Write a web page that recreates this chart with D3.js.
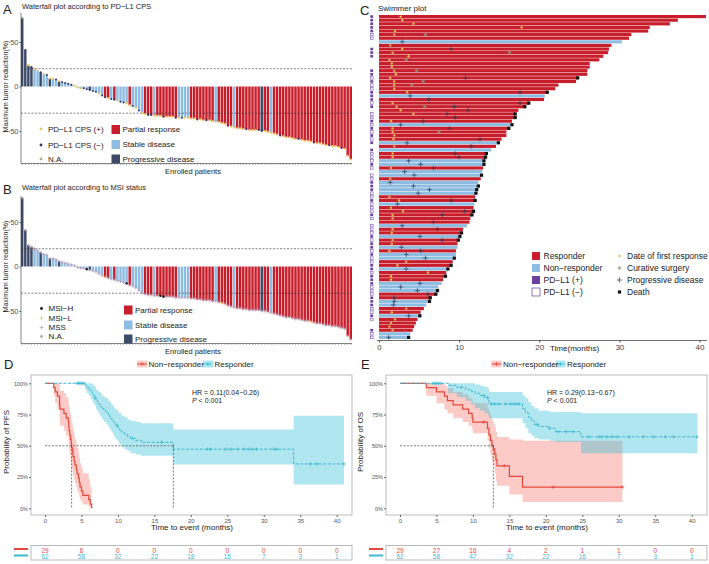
<!DOCTYPE html>
<html>
<head>
<meta charset="utf-8">
<script src="https://cdn.jsdelivr.net/npm/d3@7"></script>
<style>
  body { margin: 0; background: #fff; }
  svg text { font-family: "Liberation Sans", Arial, sans-serif; }
</style>
</head>
<body>
<svg id="fig" width="709" height="564"></svg>
<script>
// ---------- waterfall data (panels A and B share the bars) ----------
const wfChange = [77, 41, 24, 22, 20, 18, 16, 14, 13, 9, 9, 8, 6, 5, 4, 3, 2, 1, -1, -2,
  -2, -3, -4, -5, -6, -8, -10, -12, -13, -14, -15, -16, -17, -18, -19, -21, -22, -24, -27, -30,
  -31, -32, -32, -33, -33, -33, -34, -34, -34, -34, -35, -35, -35, -35, -35, -36, -36, -37, -37, -38,
  -38, -38, -39, -39, -40, -41, -42, -44, -45, -46, -47, -47, -48, -48, -49, -49, -49, -49, -50, -50,
  -51, -52, -53, -54, -55, -56, -57, -57, -58, -59, -59, -60, -61, -61, -62, -63, -64, -64, -65, -66,
  -66, -67, -67, -68, -69, -70, -78, -82];
// R = partial response, S = stable disease, P = progressive disease
const wfResponse = ["PPPP", "SS", "P", "SS", "P", "SS", "P", "SSSSSSSSS", "P", "SSSS", "RR", "S", "R",
  "SSSS", "R", "SSSS", "RRR", "S", "RRRRRRR", "SSSS", "RRRRRRRR", "S", "RRRRR", "S", "RRRRRRRR", "P",
  "RR", "S", "RRRRRRRRRRRRRRRRRRRRRRRRRR"].join("").split("");
// p = CPS(+), n = CPS(-), x = N.A.
const wfCps = ["xnpnppnpnppn", "pnnnnpppnnnn", "npnnpnnpnnpp", "npnppnnpppnp", "ppnpnppppnpp",
  "nppxpppnpppp", "pnpppnnppppp", "npppppnppppn", "ppppnpppnppp"].join("").split("");
// h = MSI-H, l = MSI-L, s = MSS, x = N.A.
const wfMsi = ["sssssssxssss", "ssssssssshss", "ssslsssssshs", "ssssssssshhs", "ssssssxsssss",
  "ssssslssssss", "ssssssssssss", "sssxssssssls", "ssssssssssss"].join("").split("");

// ---------- swimmer data ----------
const swDur = [40.8, 37.3, 36.3, 33.8, 33.6, 31.5, 31.2, 30.3, 29.0, 28.7,
  28.6, 28.0, 27.5, 26.3, 26.3, 26.0, 26.0, 24.8, 24.6, 22.4,
  22.0, 21.0, 20.7, 20.6, 18.7, 18.2, 17.4, 17.0, 17.0, 16.6,
  16.6, 16.2, 15.9, 15.9, 15.3, 14.9, 14.6, 14.0, 13.4, 13.3,
  13.1, 13.1, 13.0, 12.9, 12.8, 12.7, 12.4, 12.4, 12.2, 12.1,
  12.0, 12.0, 11.9, 11.8, 11.8, 11.6, 11.4, 11.3, 11.0, 10.5,
  10.3, 10.1, 9.9, 9.8, 9.8, 9.6, 9.6, 9.4, 9.2, 9.0,
  8.6, 8.4, 8.3, 8.0, 7.8, 7.4, 7.3, 7.1, 6.4, 6.3,
  5.9, 5.6, 5.2, 5.1, 4.8, 4.6, 4.4, 4.2, 3.9, 3.7];
const swGroup = ["RRRRRRRNRR", "RRRRRRRRRR", "RRNRRRRRRR", "NRRRRNRNRR", "NNRNNRNNNN",
  "RRNRRRRRNR", "RNRRNRNNRR", "NRRRNNNRRN", "NRRNRRRRNN"].join("").split("");
const swPdl1 = ["+++++--..+", "++...++-+-", "-+++-+.--+", "-+-+-+.+--", "-+-.--+++-",
  "-+---+-.--", "-+-++-+--+", "+-+++---++", "+--+-..+--"].join("").split("");
const swFirst = [2.7, 2.9, 4.3, 17.8, 2.0, 1.9, null, null, 1.4, 2.9,
  1.7, 3.7, 1.3, 1.6, 1.6, 1.9, 2.1, 1.4, 1.9, 1.9,
  1.9, 3.5, null, null, 1.7, 2.2, 2.7, 4.3, null, 1.5,
  null, 1.7, 1.7, 1.9, 1.8, null, 1.9, null, 1.7, 1.7,
  null, null, 1.5, null, null, 1.4, null, null, null, null,
  1.3, 2.5, null, 1.5, 3.0, 1.7, 1.7, null, null, 1.7,
  1.6, null, 1.7, 1.6, null, 1.3, null, null, 3.4, 2.3,
  null, 6.1, 1.5, 1.5, null, null, null, null, null, null,
  null, 3.4, 1.6, null, 2.0, 1.5, 1.3, 1.7, null, null];
const swSurgery = [null, null, null, null, null, 5.8, null, null, null, null,
  16.3, null, 3.4, null, null, 4.7, null, null, 5.5, 4.1,
  null, null, null, null, null, 5.7, null, null, null, null,
  null, null, 7.5, null, null, null, null, null, null, null,
  null, null, null, null, null, null, null, null, null, null,
  null, null, null, null, null, null, null, null, null, null,
  null, null, null, null, null, null, null, null, null, null,
  null, null, null, null, null, null, null, null, null, null,
  null, null, null, null, null, null, null, null, null, null];
const swProg = [null, null, null, null, null, null, null, 2.9, null, 9.0,
  null, null, null, null, null, null, null, 10.8, null, null,
  null, 17.6, 3.9, 6.2, 17.6, 9.4, 11.1, 8.5, 9.5, 5.5,
  2.7, 8.8, null, null, 12.6, 3.5, 11.5, null, 9.5, 10.0,
  3.7, 5.2, 6.8, 3.2, 4.4, null, 1.4, 4.3, 6.3, 4.9,
  null, 9.0, 2.3, null, 10.7, 7.9, null, 6.8, 2.9, 7.3,
  null, 5.1, 7.9, null, 2.8, 5.2, 3.4, 5.8, null, null,
  3.4, null, null, null, 5.1, 2.7, 4.8, 6.1, 1.9, 1.9,
  1.8, null, null, 3.7, null, null, null, null, null, 1.2];
const swDeath = [0, 0, 0, 0, 0, 0, 0, 0, 0, 0,
  0, 0, 0, 0, 0, 0, 0, 1, 0, 0,
  0, 1, 0, 0, 1, 1, 0, 1, 1, 0,
  1, 1, 0, 0, 0, 1, 0, 0, 1, 1,
  1, 1, 0, 0, 1, 0, 0, 1, 1, 1,
  0, 1, 0, 0, 1, 1, 0, 0, 0, 0,
  1, 1, 1, 0, 0, 0, 0, 1, 0, 1,
  1, 0, 1, 0, 0, 0, 1, 1, 1, 1,
  0, 0, 0, 1, 0, 0, 0, 0, 0, 1];

// ---------- Kaplan-Meier data (step times, survival %, band) ----------
const pfsNRTime = [0, 1.2, 1.4, 1.7, 2.0, 2.05, 2.6, 2.9, 3.2, 3.25, 3.3, 3.4, 3.5, 3.6, 3.65, 3.8, 3.85, 4.0, 4.1, 4.3, 4.4, 4.6, 4.7, 4.8, 5.0, 5.2, 6.0, 6.2, 6.4];
const pfsNRSurv = [100, 96.6, 93.1, 89.7, 82.8, 79.3, 75.9, 72.4, 69.0, 65.5, 62.1, 58.6, 55.2, 51.7, 48.3, 44.8, 41.4, 37.9, 34.5, 31.0, 27.6, 24.1, 20.7, 17.2, 13.8, 10.3, 6.9, 3.4, 0];
const pfsNRLo = [100, 90, 84, 79, 70, 66, 62, 58, 54, 50, 46, 43, 39, 36, 32, 29, 26, 23, 20, 17, 14, 12, 9, 7, 5, 3, 1, 0, 0];
const pfsNRHi = [100, 100, 100, 100, 96, 94, 92, 89, 87, 84, 81, 78, 75, 72, 68, 65, 62, 58, 55, 51, 48, 44, 40, 36, 32, 28, 23, 17, 0];
const pfsNRCens = [];

const pfsRTime = [0, 5.5, 5.7, 6.0, 6.3, 6.5, 6.7, 6.9, 7.0, 7.2, 7.4, 7.6, 7.8, 8.1, 8.4, 8.7, 8.9, 9.1, 9.3, 9.5, 9.7, 10.0, 10.2, 10.5, 10.9, 11.3, 11.7, 12.4, 13.2, 17.6, 34.1];
const pfsRSurv = [100, 98.4, 96.7, 95.0, 93.3, 91.6, 89.9, 88.2, 86.5, 84.8, 83.1, 81.4, 79.7, 78.0, 76.3, 74.6, 72.9, 71.2, 69.5, 67.8, 66.1, 64.4, 62.7, 61.0, 59.3, 57.6, 55.9, 54.4, 52.8, 47.3, 35.5];
const pfsRLo = [100, 95, 92, 90, 87, 85, 83, 81, 79, 77, 75, 73, 71, 69, 67, 65, 63, 61, 59, 57, 55, 53, 51, 49, 47, 46, 44, 43, 42, 35, 19];
const pfsRHi = [100, 100, 100, 100, 100, 99, 98, 97, 95, 94, 93, 92, 90, 89, 88, 86, 85, 83, 82, 80, 79, 77, 76, 74, 73, 71, 70, 69, 68, 63, 74];
const pfsRCens = [4.4, 4.6, 4.8, 5.0, 5.2, 5.35, 6.9, 9.9, 12.0, 16.0, 22.3, 22.7, 24.8, 25.5, 26.4, 27.3, 28.0, 28.5, 29.0, 31.4, 31.8, 36.4, 37.3, 41.0];

const osNRTime = [0, 3.6, 5.0, 6.1, 6.5, 7.3, 8.6, 9.4, 9.9, 10.0, 12.0, 12.2, 12.4, 12.6, 12.8, 13.0, 13.15, 13.3, 15.0, 16.8];
const osNRSurv = [100, 96.6, 93.1, 89.7, 86.2, 82.8, 79.3, 75.9, 72.4, 69.0, 63.9, 58.7, 54.3, 50.6, 47.5, 43.4, 38.9, 34.0, 25.5, 17.0];
const osNRLo = [100, 90, 84, 79, 76, 72, 69, 66, 63, 60, 54, 48, 43, 38, 34, 28, 22, 18, 11, 5];
const osNRHi = [100, 100, 100, 98, 96, 93, 91, 88, 86, 84, 80, 77, 74, 71, 68, 65, 61, 57, 55, 54];
const osNRCens = [11.5, 14.3, 21.0, 30.5];

const osRTime = [0, 6.6, 7.8, 9.0, 9.8, 10.3, 11.0, 11.6, 12.1, 12.2, 16.8, 17.2, 17.6, 18.0, 18.4, 19.0, 20.5, 21.3, 24.8];
const osRSurv = [100, 98.4, 96.8, 95.1, 93.5, 91.9, 90.3, 88.6, 86.9, 83.5, 80.0, 76.5, 73.0, 70.1, 67.2, 65.4, 64.0, 61.3, 57.2];
const osRLo = [100, 92, 89, 86, 83, 80, 78, 76, 74, 72, 68, 64, 60, 58, 56, 55, 54, 53, 44];
const osRHi = [100, 100, 100, 100, 100, 99, 98, 97, 96, 93, 90, 88, 85, 82, 80, 78, 77, 77, 76];
const osRCens = [4.5, 4.8, 5.0, 5.3, 5.6, 8.4, 11.5, 12.0, 12.6, 13.0, 13.5, 14.5, 15.2, 15.6, 16.0, 16.3, 18.8, 20.5, 21.7, 22.8, 23.7, 25.9, 27.3, 27.7, 28.4, 29.1, 29.8, 31.4, 33.4, 34.8, 36.4, 37.5, 40.7];

const pfsMedians = [3.65, 17.6];
const osMedians = [12.8];
const riskTimes = [0, 5, 10, 15, 20, 25, 30, 35, 40];
const pfsRiskNR = [29, 6, 0, 0, 0, 0, 0, 0, 0];
const pfsRiskR = [62, 58, 32, 22, 18, 15, 7, 3, 1];
const osRiskNR = [29, 27, 16, 4, 2, 1, 1, 0, 0];
const osRiskR = [62, 58, 47, 32, 22, 16, 7, 3, 1];

// ---------- styles ----------
const respColor = { R: "#c81e2b", S: "#8fbde2", P: "#3d4b68" };
const cpsStyle = {
  p: { shape: "dot", color: "#f1c55d", r: 1.1 },
  n: { shape: "dot", color: "#2c3569", r: 1.0 },
  x: { shape: "dot", color: "#a3b395", r: 1.1 }
};
const msiStyle = {
  h: { shape: "dot", color: "#111", r: 1.2 },
  l: { shape: "plus", color: "#efc24b", s: 1.6 },
  s: { shape: "plus", color: "#b79bb4", s: 1.6 },
  x: { shape: "dot", color: "#a3b395", r: 1.1 }
};
const redLine = "#e5483a", tealLine = "#3cb9d0";
const redFill = "#f8766d", tealFill = "#2fbcd4";

const svg = d3.select("#fig");

function marker(g, st, cx, cy) {
  if (st.shape === "dot") {
    g.append("circle").attr("cx", cx).attr("cy", cy).attr("r", st.r).attr("fill", st.color);
  } else {
    g.append("path")
      .attr("d", `M${cx - st.s},${cy}H${cx + st.s}M${cx},${cy - st.s}V${cy + st.s}`)
      .attr("stroke", st.color).attr("stroke-width", 0.7);
  }
}

function label(text, x, y, size, opts = {}) {
  return svg.append("text").attr("x", x).attr("y", y)
    .attr("font-size", size).attr("fill", opts.fill || "#222")
    .attr("text-anchor", opts.anchor || "start").text(text);
}

// ---------- waterfall ----------
function waterfall(dy, letter, title, codes, styles, legL, legR) {
  const g = svg.append("g");
  const x = d3.scaleBand().domain(d3.range(wfChange.length)).range([21, 352]).paddingInner(0.2);
  const y = d3.scaleLinear().domain([-50, 50]).range([131 + dy, 42 + dy]);

  label(letter, 3, 14 + dy, 13);
  label(title, 22, 9 + dy + (dy ? 1 : 0), 7.5);

  g.selectAll("rect.bar").data(wfChange).join("rect")
    .attr("x", (d, i) => x(i)).attr("width", x.bandwidth())
    .attr("y", d => y(Math.max(0, d)))
    .attr("height", d => Math.abs(y(d) - y(0)))
    .attr("fill", (d, i) => respColor[wfResponse[i]]);

  // threshold lines
  [20, -30].forEach(v => {
    g.append("line").attr("x1", 21).attr("x2", 352).attr("y1", y(v)).attr("y2", y(v))
      .attr("stroke", "#333").attr("stroke-width", 0.6).attr("stroke-dasharray", "2,1.5");
  });

  wfChange.forEach((d, i) => marker(g, styles[codes[i]], x(i) + x.bandwidth() / 2, y(d)));

  // axes
  g.append("line").attr("x1", 21).attr("x2", 21).attr("y1", y(dy ? 79 : 83)).attr("y2", y(-86.5))
    .attr("stroke", "#333").attr("stroke-width", 0.6);
  g.append("line").attr("x1", 21).attr("x2", 352).attr("y1", y(-86.5)).attr("y2", y(-86.5))
    .attr("stroke", "#333").attr("stroke-width", 0.6);
  g.append("g").attr("transform", `translate(0,${y(-86.5)})`)
    .call(d3.axisBottom(x).tickSize(1.5).tickFormat(""))
    .call(a => a.select(".domain").remove())
    .call(a => a.selectAll("line").attr("stroke", "#666").attr("stroke-width", 0.5));
  g.append("g").attr("transform", "translate(21,0)")
    .call(d3.axisLeft(y).tickValues([-50, 0, 50]).tickSize(1.5).tickPadding(1))
    .call(a => a.select(".domain").remove())
    .call(a => a.selectAll("text").attr("font-size", 7.5).attr("fill", "#555")
      .attr("font-family", "Liberation Sans, Arial, sans-serif"))
    .call(a => a.selectAll("line").attr("stroke", "#555"));

  svg.append("text").attr("transform", `translate(7.5,${y(0)}) rotate(-90)`)
    .attr("text-anchor", "middle").attr("font-size", 7).attr("fill", "#222")
    .text("Maximum tumor reduction(%)");
  label("Enrolled patients", 193, y(-86.5) + 10.5, 7.5, { anchor: "middle" });

  legL.items.forEach((it, k) => {
    marker(g, { ...styles[it[0]], r: 1.4, s: 2 }, legL.x, legL.y[k]);
    label(it[1], legL.x + 7, legL.y[k] + 2.8, 8);
  });
  legR.items.forEach((it, k) => {
    g.append("rect").attr("x", legR.x).attr("y", legR.y[k] - 4.5).attr("width", 8.5).attr("height", 9)
      .attr("fill", respColor[it[0]]);
    label(it[1], legR.x + 11, legR.y[k] + 2.8, 8);
  });
}

waterfall(0, "A", "Waterfall plot according to PD\u2212L1 CPS", wfCps, cpsStyle,
  { x: 41, y: [129, 145, 159], items: [["p", "PD\u2212L1 CPS (+)"], ["n", "PD\u2212L1 CPS (\u2212)"], ["x", "N.A."]] },
  { x: 111.5, y: [129.5, 144.5, 159], items: [["R", "Partial response"], ["S", "Stable disease"], ["P", "Progressive disease"]] });

waterfall(180, "B", "Waterfall plot according to MSI status", wfMsi, msiStyle,
  { x: 41.5, y: [308.5, 318, 327.5, 336.5], items: [["h", "MSI\u2212H"], ["l", "MSI\u2212L"], ["s", "MSS"], ["x", "N.A."]] },
  { x: 124, y: [310, 325, 339], items: [["R", "Partial response"], ["S", "Stable disease"], ["P", "Progressive disease"]] });

// ---------- swimmer ----------
(function swimmer() {
  const g = svg.append("g");
  const x = d3.scaleLinear().domain([0, 40]).range([379, 699.5]);
  const y = d3.scaleBand().domain(d3.range(swDur.length)).range([15, 339]).paddingInner(0.12);
  const h = y.bandwidth();

  label("C", 360, 15, 13);
  label("Swimmer plot", 378, 11, 8);

  g.selectAll("rect.sw").data(swDur).join("rect")
    .attr("x", x(0)).attr("y", (d, i) => y(i)).attr("width", d => x(d) - x(0)).attr("height", h)
    .attr("fill", (d, i) => swGroup[i] === "R" ? respColor.R : respColor.S);

  swPdl1.forEach((p, i) => {
    if (p === ".") return;
    g.append("rect").attr("x", 370.3).attr("y", y(i) + 0.3).attr("width", 2.8).attr("height", h - 0.6)
      .attr("fill", p === "+" ? "#6a3f9e" : "#fff")
      .attr("stroke", "#7b55ad").attr("stroke-width", p === "+" ? 0 : 0.6);
  });

  swDur.forEach((d, i) => {
    const cy = y(i) + h / 2;
    if (swProg[i] != null) {
      const cx = x(swProg[i]);
      g.append("path").attr("d", `M${cx - 2.4},${cy}H${cx + 2.4}M${cx},${cy - 2.4}V${cy + 2.4}`)
        .attr("stroke", "#2e3b58").attr("stroke-width", 0.7);
    }
    if (swSurgery[i] != null) {
      const cx = x(swSurgery[i]);
      g.append("path").attr("d", `M${cx - 1.8},${cy}H${cx + 1.8}M${cx},${cy - 1.8}V${cy + 1.8}M${cx - 1.3},${cy - 1.3}L${cx + 1.3},${cy + 1.3}M${cx - 1.3},${cy + 1.3}L${cx + 1.3},${cy - 1.3}`)
        .attr("stroke", "#8e9c7f").attr("stroke-width", 0.7);
    }
    if (swFirst[i] != null) {
      g.append("circle").attr("cx", x(swFirst[i])).attr("cy", cy).attr("r", 1.2).attr("fill", "#f4bd4e");
    }
    if (swDeath[i]) {
      g.append("rect").attr("x", x(d) - 1.6).attr("y", cy - 1.6).attr("width", 3.2).attr("height", 3.2).attr("fill", "#111");
    }
  });

  g.append("line").attr("x1", 377).attr("x2", 707).attr("y1", 340.5).attr("y2", 340.5)
    .attr("stroke", "#333").attr("stroke-width", 0.7);
  g.append("g").attr("transform", "translate(0,340.5)")
    .call(d3.axisBottom(x).tickValues([0, 10, 20, 30, 40]).tickSize(2).tickPadding(2))
    .call(a => a.select(".domain").remove())
    .call(a => a.selectAll("text").attr("font-size", 8).attr("fill", "#444")
      .attr("font-family", "Liberation Sans, Arial, sans-serif"))
    .call(a => a.selectAll("line").attr("stroke", "#444"));
  label("Time(months)", 550, 351, 8);

  // legend
  const ly = [256, 268, 280, 292];
  const boxes = [["#c81e2b", 0, "Responder"], ["#8fbde2", 0, "Non\u2212responder"],
    ["#6a3f9e", 0, "PD\u2212L1 (+)"], ["#fff", 1, "PD\u2212L1 (\u2212)"]];
  boxes.forEach((b, k) => {
    g.append("rect").attr("x", 532).attr("y", ly[k] - 4).attr("width", 8).attr("height", 8)
      .attr("fill", b[0]).attr("stroke", b[1] ? "#7b55ad" : "none").attr("stroke-width", 0.8);
    label(b[2], 543.5, ly[k] + 3, 8.5);
  });
  const mx = 619.5;
  g.append("circle").attr("cx", mx).attr("cy", ly[0]).attr("r", 1.3).attr("fill", "#f4bd4e");
  g.append("path").attr("d", `M${mx - 2},${ly[1]}H${mx + 2}M${mx},${ly[1] - 2}V${ly[1] + 2}M${mx - 1.4},${ly[1] - 1.4}L${mx + 1.4},${ly[1] + 1.4}M${mx - 1.4},${ly[1] + 1.4}L${mx + 1.4},${ly[1] - 1.4}`)
    .attr("stroke", "#8e9c7f").attr("stroke-width", 0.7);
  g.append("path").attr("d", `M${mx - 2.6},${ly[2]}H${mx + 2.6}M${mx},${ly[2] - 2.6}V${ly[2] + 2.6}`)
    .attr("stroke", "#2e3b58").attr("stroke-width", 0.7);
  g.append("rect").attr("x", mx - 1.6).attr("y", ly[3] - 1.6).attr("width", 3.2).attr("height", 3.2).attr("fill", "#111");
  ["Date of first response", "Curative surgery", "Progressive disease", "Death"].forEach((t, k) =>
    label(t, 627, ly[k] + 3, 8.5));
})();

// ---------- Kaplan-Meier ----------
function km(opt) {
  const g = svg.append("g");
  const x0 = opt.x0;
  const x = d3.scaleLinear().domain([0, 40]).range([x0 + 14, x0 + 305.7]);
  const y = d3.scaleLinear().domain([0, 100]).range([508.3, 383.3]);

  label(opt.letter, opt.letterX, 369, 13);

  g.append("rect").attr("x", x0).attr("y", 375).attr("width", 321).attr("height", 140)
    .attr("fill", "none").attr("stroke", "#aaa").attr("stroke-width", 0.8);

  const series = opt.curves.map(c => {
    const pts = c.time.map((t, i) => ({ t, s: c.surv[i], lo: c.lo[i], hi: c.hi[i] }));
    const last = pts[pts.length - 1];
    if (c.end > last.t) pts.push({ ...last, t: c.end });
    return { ...c, pts };
  });

  const area = d3.area().curve(d3.curveStepAfter).x(d => x(d.t)).y0(d => y(d.lo)).y1(d => y(d.hi));
  const line = d3.line().curve(d3.curveStepAfter).x(d => x(d.t)).y(d => y(d.s));

  series.forEach(c => g.append("path").attr("d", area(c.pts)).attr("fill", c.fill).attr("fill-opacity", 0.38));
  series.forEach(c => g.append("path").attr("d", line(c.pts)).attr("fill", "none")
    .attr("stroke", c.color).attr("stroke-width", c.dash ? 1 : 1.2)
    .attr("stroke-dasharray", c.dash ? "3,1.6" : null));
  series.forEach(c => {
    c.cens.forEach(t => {
      const k = d3.bisectRight(c.time, t) - 1;
      const cx = x(t), cy = y(c.surv[k]);
      g.append("path").attr("d", `M${cx - 1.8},${cy}H${cx + 1.8}M${cx},${cy - 1.8}V${cy + 1.8}`)
        .attr("stroke", c.color).attr("stroke-width", 0.7);
    });
  });

  // medians
  const mMax = d3.max(opt.medians);
  g.append("line").attr("x1", x(0)).attr("x2", x(mMax)).attr("y1", y(50)).attr("y2", y(50))
    .attr("stroke", "#555").attr("stroke-width", 0.8).attr("stroke-dasharray", "2,1.5");
  opt.medians.forEach(m => g.append("line").attr("x1", x(m)).attr("x2", x(m)).attr("y1", y(50)).attr("y2", y(0))
    .attr("stroke", "#555").attr("stroke-width", 0.8).attr("stroke-dasharray", "2,1.5"));

  // axes
  g.append("g").attr("transform", `translate(0,515)`)
    .call(d3.axisBottom(x).tickValues(riskTimes).tickSize(2).tickPadding(1.5))
    .call(a => a.select(".domain").remove())
    .call(a => a.selectAll("text").attr("font-size", 6).attr("fill", "#555")
      .attr("font-family", "Liberation Sans, Arial, sans-serif"))
    .call(a => a.selectAll("line").attr("stroke", "#666"));
  g.append("g").attr("transform", `translate(${x0},0)`)
    .call(d3.axisLeft(y).tickValues([0, 25, 50, 75, 100]).tickFormat(d => d + "%").tickSize(2).tickPadding(1))
    .call(a => a.select(".domain").remove())
    .call(a => a.selectAll("text").attr("font-size", 5.5).attr("fill", "#555")
      .attr("font-family", "Liberation Sans, Arial, sans-serif"))
    .call(a => a.selectAll("line").attr("stroke", "#666"));

  svg.append("text").attr("transform", `translate(${opt.ylabX},442) rotate(-90)`)
    .attr("text-anchor", "middle").attr("font-size", 8).attr("fill", "#222").text(opt.ylab);
  label("Time to event (months)", x0 + 161, 529.5, 8, { anchor: "middle" });

  // HR text
  label(opt.hr, opt.hrX, 394.5, 7);
  const p = svg.append("text").attr("x", opt.hrX).attr("y", 402.5).attr("font-size", 7).attr("fill", "#222");
  p.append("tspan").attr("font-style", "italic").text("P");
  p.append("tspan").text(" < 0.001");

  // legend
  series.forEach((c, k) => {
    const lx = opt.legX[k];
    g.append("rect").attr("x", lx).attr("y", 360.5).attr("width", 10).attr("height", 7)
      .attr("fill", c.fill).attr("fill-opacity", 0.38);
    g.append("line").attr("x1", lx).attr("x2", lx + 10).attr("y1", 364).attr("y2", 364)
      .attr("stroke", c.color).attr("stroke-width", 1).attr("stroke-dasharray", c.dash ? "2,1" : null);
    g.append("path").attr("d", `M${lx + 3},364H${lx + 7}M${lx + 5},362V366`)
      .attr("stroke", c.color).attr("stroke-width", 0.7);
    label(c.name, lx + 11.5, 367, 8);
  });

  // risk table
  g.append("rect").attr("x", x0).attr("y", 545.5).attr("width", 321).attr("height", 14.5)
    .attr("fill", "none").attr("stroke", "#aaa").attr("stroke-width", 0.8);
  series.forEach((c, k) => {
    const ry = k ? 555.5 : 549;
    g.append("line").attr("x1", x0 - 17).attr("x2", x0 - 3).attr("y1", ry).attr("y2", ry)
      .attr("stroke", c.color).attr("stroke-width", 2);
    c.risk.forEach((n, i) => label(n, x(riskTimes[i]), k ? 559 : 553, 6.5, { anchor: "middle", fill: c.color }));
  });
}

km({
  x0: 31, letter: "D", letterX: 4, ylab: "Probability of PFS", ylabX: 9, hr: "HR = 0.11(0.04\u22120.26)", hrX: 192,
  legX: [137, 203], medians: pfsMedians,
  curves: [
    { name: "Non\u2212responder", time: pfsNRTime, surv: pfsNRSurv, lo: pfsNRLo, hi: pfsNRHi, end: 6.4, cens: pfsNRCens,
      color: redLine, fill: redFill, dash: false, risk: pfsRiskNR },
    { name: "Responder", time: pfsRTime, surv: pfsRSurv, lo: pfsRLo, hi: pfsRHi, end: 41.0, cens: pfsRCens,
      color: tealLine, fill: tealFill, dash: true, risk: pfsRiskR }
  ]
});

km({
  x0: 386, letter: "E", letterX: 361, ylab: "Probability of OS", ylabX: 363, hr: "HR = 0.29(0.13\u22120.67)", hrX: 547,
  legX: [491.5, 555.5], medians: osMedians,
  curves: [
    { name: "Non\u2212responder", time: osNRTime, surv: osNRSurv, lo: osNRLo, hi: osNRHi, end: 30.5, cens: osNRCens,
      color: redLine, fill: redFill, dash: false, risk: osRiskNR },
    { name: "Responder", time: osRTime, surv: osRSurv, lo: osRLo, hi: osRHi, end: 40.8, cens: osRCens,
      color: tealLine, fill: tealFill, dash: true, risk: osRiskR }
  ]
});
</script>
</body>
</html>
